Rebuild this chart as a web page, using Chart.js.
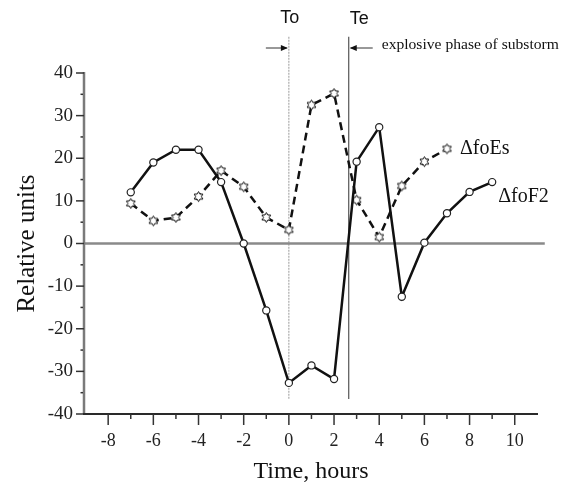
<!DOCTYPE html>
<html><head><meta charset="utf-8">
<script src="https://cdn.jsdelivr.net/npm/chart.js@4/dist/chart.umd.min.js"></script>
<style>html,body{margin:0;padding:0;background:#fff}#wrap{width:570px;height:487px;position:relative}</style>
</head><body><div id="wrap"><canvas id="c"></canvas></div>
<script>
// ---- data ----
const hoursF2 = [-7,-6,-5,-4,-3,-2,-1,0,1,2,3,4,5,6,7,8,9];
const foF2    = [12,19,22,22,14.4,0,-15.7,-32.7,-28.6,-31.8,19.2,27.3,-12.5,0.2,7.1,12.1,14.4];
const hoursEs = [-7,-6,-5,-4,-3,-2,-1,0,1,2,3,4,5,6,7];
const foEs    = [9.4,5.3,6.1,11,17.1,13.3,6.1,3.2,32.5,35.2,10.2,1.5,13.5,19.2,22.2];
const seriesNames = ['\u0394foF2','\u0394foEs'];
const xTickLabels = [-8,-6,-4,-2,0,2,4,6,8,10];
const xMinorTicks = [-7,-5,-3,-1,1,3,5,7,9];
const yTickLabels = [-40,-30,-20,-10,0,10,20,30,40];
const yMinorTicks = [-35,-25,-15,-5,5,15,25,35];
const onsetTimes = {To:0, Te:2.65};
const onsetLabels = ['To','Te'];
const phaseText = 'explosive phase of substorm';
const xTitle = 'Time, hours';
const yTitle = 'Relative units';

function pts(xs, ys){ return xs.map((x,i)=>({x:x, y:ys[i]})); }

function makeStar(){
  const s=13, c=document.createElement('canvas'); c.width=s; c.height=s;
  const g=c.getContext('2d'); const cx=s/2, cy=s/2, r=5;
  g.lineWidth=1; g.strokeStyle='#111'; g.fillStyle='#fff';
  g.beginPath();
  for(let i=0;i<12;i++){
    const a=-Math.PI/2+i*Math.PI/6, rr=(i%2===0)?r:r/Math.sqrt(3);
    const px=cx+rr*Math.cos(a), py=cy+rr*Math.sin(a);
    if(i===0) g.moveTo(px,py); else g.lineTo(px,py);
  }
  g.closePath(); g.fill(); g.stroke();
  return c;
}
const starImg = makeStar();

const XMIN=-9.07, XMAX=11.03, YMIN=-40, YMAX=40;

const decor = {
  id:'decor',
  afterDraw(chart){
    const {ctx, scales:{x,y}, chartArea:a} = chart;
    const L=(x1,y1,x2,y2)=>{ctx.beginPath();ctx.moveTo(x1,y1);ctx.lineTo(x2,y2);ctx.stroke();};
    ctx.save();
    // y axis
    ctx.strokeStyle='#7a7a7a'; ctx.lineWidth=2.5;
    L(a.left, a.top-1, a.left, a.bottom);
    ctx.strokeStyle='#333'; ctx.lineWidth=1.5;
    yTickLabels.forEach(v=>{const py=y.getPixelForValue(v); L(a.left-8, py, a.left, py);});
    yMinorTicks.forEach(v=>{const py=y.getPixelForValue(v); L(a.left-3.5, py, a.left-1, py);});
    // x axis
    ctx.strokeStyle='#2a2a2a'; ctx.lineWidth=2.2;
    L(a.left-1, a.bottom, a.right, a.bottom);
    ctx.lineWidth=1.5; ctx.strokeStyle='#333';
    xTickLabels.forEach(v=>{const px=x.getPixelForValue(v); L(px, a.bottom, px, a.bottom+11);});
    xMinorTicks.forEach(v=>{const px=x.getPixelForValue(v); L(px, a.bottom, px, a.bottom+5);});
    // onset labels
    const pTo=x.getPixelForValue(onsetTimes.To), pTe=x.getPixelForValue(onsetTimes.Te);
    ctx.fillStyle='#111'; ctx.font='18px "Liberation Sans"'; ctx.textBaseline='middle';
    ctx.textAlign='center'; ctx.fillText(onsetLabels[0], pTo+1, 18);
    ctx.textAlign='left'; ctx.fillText(onsetLabels[1], pTe+1, 19);
    // arrows
    const ay=48;
    ctx.strokeStyle='#333'; ctx.lineWidth=1; ctx.fillStyle='#111';
    L(pTo-23, ay, pTo-2, ay);
    ctx.beginPath(); ctx.moveTo(pTo-1,ay); ctx.lineTo(pTo-8,ay-3); ctx.lineTo(pTo-8,ay+3); ctx.closePath(); ctx.fill();
    L(pTe+2, ay, pTe+24, ay);
    ctx.beginPath(); ctx.moveTo(pTe+1,ay); ctx.lineTo(pTe+8,ay-3); ctx.lineTo(pTe+8,ay+3); ctx.closePath(); ctx.fill();
    ctx.font='15.6px "Liberation Serif"'; ctx.textAlign='left'; ctx.fillStyle='#111';
    ctx.fillText(phaseText, pTe+33, 45);
    // series labels
    ctx.font='20px "Liberation Serif"';
    const lastEs = hoursEs.length-1, lastF2 = hoursF2.length-1;
    ctx.fillText(seriesNames[1], x.getPixelForValue(hoursEs[lastEs])+13, y.getPixelForValue(foEs[lastEs]));
    ctx.fillText(seriesNames[0], x.getPixelForValue(hoursF2[lastF2])+6, y.getPixelForValue(foF2[lastF2])+15);
    ctx.restore();
  }
};

const serif = 'Liberation Serif';
new Chart(document.getElementById('c'), {
  type:'scatter',
  data:{ datasets:[
    { label:seriesNames[0], data:pts(hoursF2,foF2), showLine:true, borderColor:'#111', borderWidth:2.5,
      pointRadius:3.6, pointBackgroundColor:'#fff', pointBorderColor:'#222', pointBorderWidth:1.2, tension:0 },
    { label:seriesNames[1], data:pts(hoursEs,foEs), showLine:true, borderColor:'#111', borderWidth:2.5, borderDash:[8,5],
      pointStyle:starImg, pointRadius:5, tension:0 },
    { label:'zero', data:[{x:XMIN,y:0},{x:XMAX+0.3,y:0}], showLine:true, borderColor:'#8a8a8a', borderWidth:2.5, pointRadius:0, clip:false },
    { label:'To', data:[{x:onsetTimes.To,y:48.5},{x:onsetTimes.To,y:-36.5}], showLine:true, borderColor:'#9a9a9a', borderWidth:1, borderDash:[2,1], pointRadius:0, clip:false },
    { label:'Te', data:[{x:onsetTimes.Te,y:48.5},{x:onsetTimes.Te,y:-36.5}], showLine:true, borderColor:'#555', borderWidth:1.2, pointRadius:0, clip:false }
  ]},
  options:{
    responsive:true, maintainAspectRatio:false, animation:false, devicePixelRatio:1,
    layout:{ padding:{ top:73, right:32, left:0, bottom:0 } },
    plugins:{ legend:{display:false}, tooltip:{enabled:false} },
    scales:{
      x:{ type:'linear', min:XMIN, max:XMAX,
        grid:{display:false, drawTicks:false}, border:{display:false},
        afterBuildTicks:s=>{ s.ticks = xTickLabels.map(v=>({value:v})); },
        afterFit:s=>{ s.height = 73; },
        ticks:{ padding:16, autoSkip:false, maxRotation:0, color:'#222', font:{family:serif, size:18}, callback:v=>String(v) },
        title:{ display:true, text:xTitle, color:'#111', font:{family:serif, size:24}, padding:{top:0,bottom:1} } },
      y:{ type:'linear', min:YMIN, max:YMAX,
        grid:{display:false, drawTicks:false}, border:{display:false},
        afterBuildTicks:s=>{ s.ticks = yTickLabels.map(v=>({value:v})); },
        afterFit:s=>{ s.width = 84; },
        ticks:{ padding:11, color:'#222', font:{family:serif, size:19}, callback:v=>String(v) },
        title:{ display:true, text:yTitle, color:'#111', font:{family:serif, size:25}, padding:{top:12,bottom:0} } }
    }
  },
  plugins:[decor]
});
</script></body></html>
